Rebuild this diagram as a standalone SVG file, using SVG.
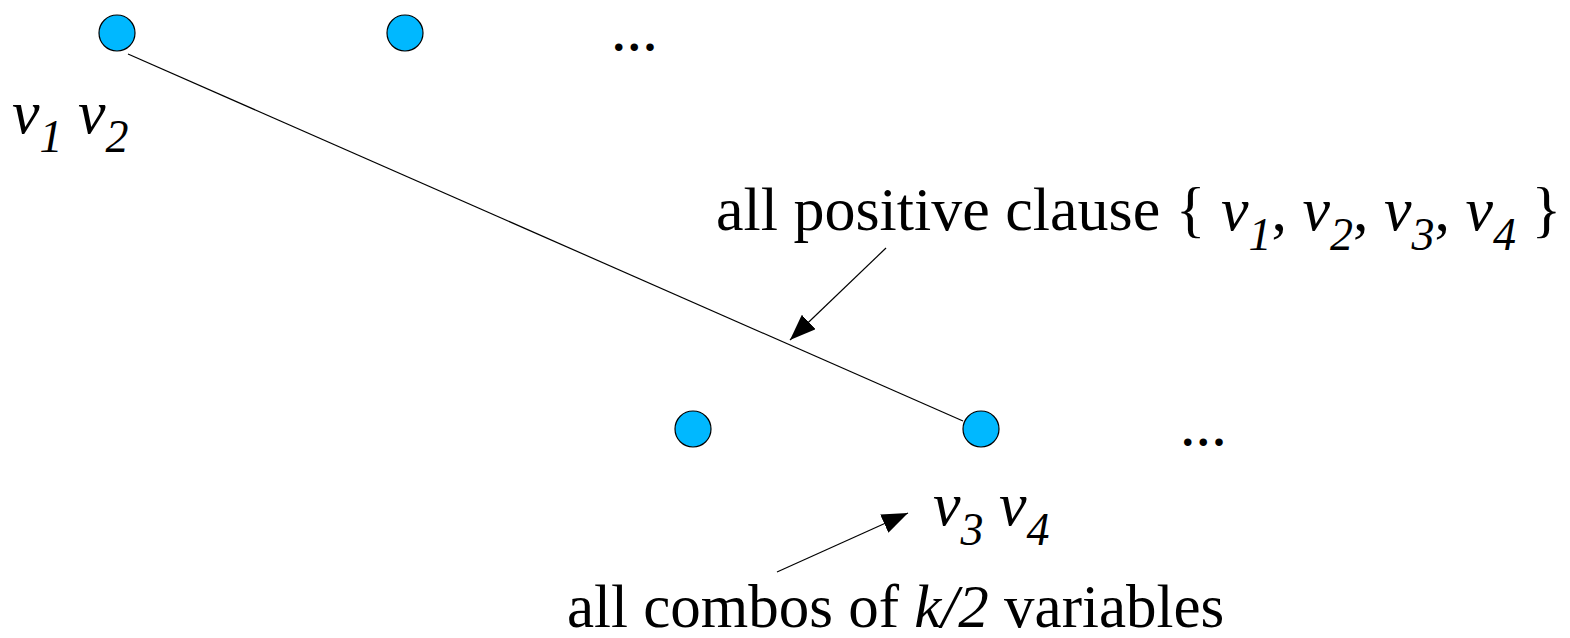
<svg xmlns="http://www.w3.org/2000/svg" width="1570" height="638" viewBox="0 0 1570 638">
<style>
.node{fill:#00b8ff;stroke:#000;stroke-width:1.2}
.t{font-family:"Liberation Serif","Times New Roman",serif;font-size:62px;fill:#000}
.i{font-style:italic}
.s{font-size:46px}
.d{font-size:46px;font-weight:bold;letter-spacing:4.1px}
.edge{stroke:#000;stroke-width:1.2;fill:none}
</style>
<defs>
<marker id="ah" markerUnits="userSpaceOnUse" viewBox="0 0 26 20" refX="26" refY="10" markerWidth="26" markerHeight="20" orient="auto">
<path d="M0,0 L26,10 L0,20 z" fill="#000"/>
</marker>
</defs>
<g id="connectors">
<line class="edge" x1="128" y1="54" x2="963" y2="421"/>
<line class="edge" x1="886" y1="248" x2="790" y2="340" marker-end="url(#ah)"/>
<line class="edge" x1="777" y1="572" x2="908" y2="513" marker-end="url(#ah)"/>
</g>
<g id="n1"><circle class="node" cx="117" cy="33" r="18"/></g>
<g id="n2"><circle class="node" cx="405" cy="33" r="18"/></g>
<g id="n3"><circle class="node" cx="693" cy="429" r="18"/></g>
<g id="n4"><circle class="node" cx="981" cy="429" r="18"/></g>
<g id="dots-top"><text class="t d" x="613" y="51">...</text></g>
<g id="dots-bottom"><text class="t d" x="1182" y="446">...</text></g>
<g id="label-v1v2"><text class="t i" x="12" y="133">v<tspan class="s" dy="19">1</tspan><tspan dy="-19"> v</tspan><tspan class="s" dy="19">2</tspan></text></g>
<g id="label-v3v4"><text class="t i" x="933" y="525">v<tspan class="s" dy="20">3</tspan><tspan dy="-20"> v</tspan><tspan class="s" dy="20">4</tspan></text></g>
<g id="label-clause"><text class="t" x="716" y="230">all positive clause { <tspan class="i">v</tspan><tspan class="i s" dy="20">1</tspan><tspan dy="-20">, </tspan><tspan class="i">v</tspan><tspan class="i s" dy="20">2</tspan><tspan dy="-20">, </tspan><tspan class="i">v</tspan><tspan class="i s" dy="20">3</tspan><tspan dy="-20">, </tspan><tspan class="i">v</tspan><tspan class="i s" dy="20">4</tspan><tspan dy="-20"> }</tspan></text></g>
<g id="label-combos"><text class="t" style="font-size:61px" x="567" y="627">all combos of <tspan class="i">k/2</tspan> variables</text></g>
</svg>
